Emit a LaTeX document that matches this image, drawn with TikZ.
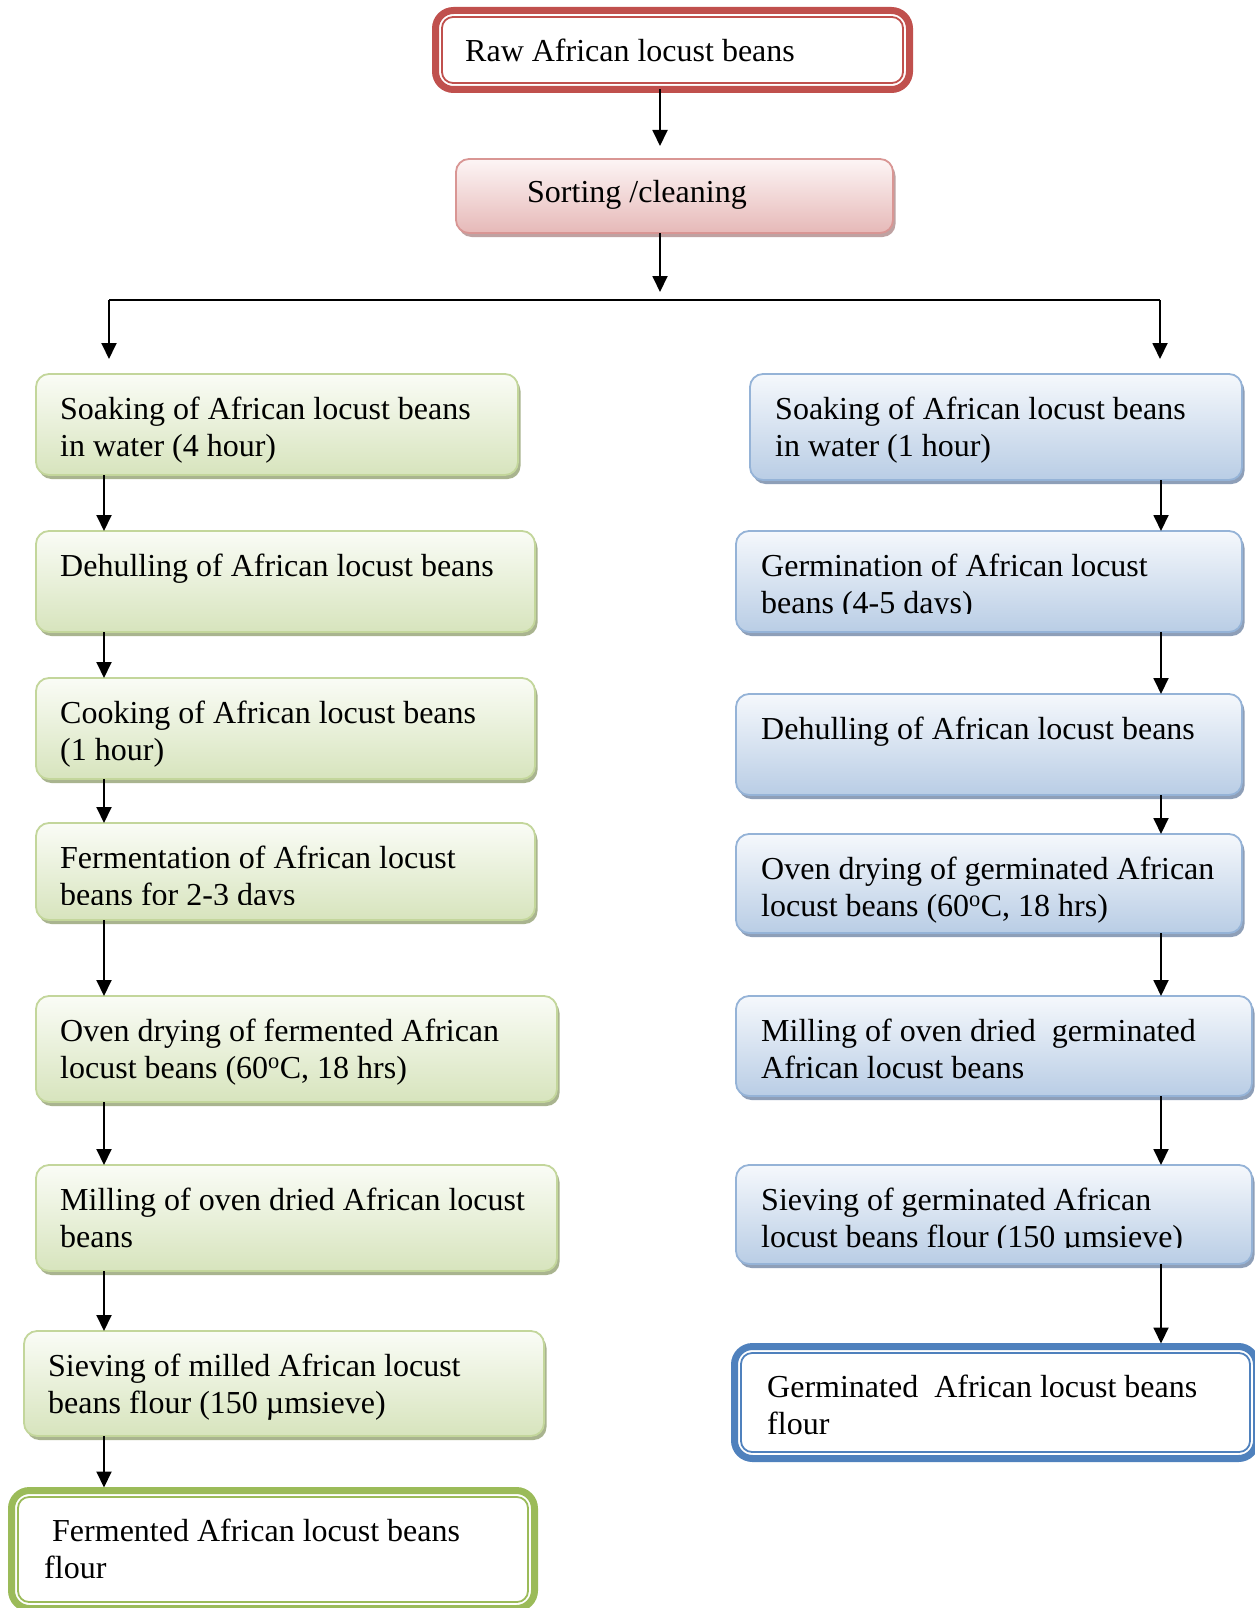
\documentclass[tikz,border=0pt]{standalone}
\usepackage{fontspec}
\setmainfont{Liberation Serif}
\usetikzlibrary{arrows.meta,shadows}
\definecolor{redc}{HTML}{C0504D}
\definecolor{pdraw}{HTML}{D99694}
\definecolor{ptop}{HTML}{FDF5F5}
\definecolor{pbot}{HTML}{E6B9B8}
\definecolor{psh}{HTML}{BFA2A2}
\definecolor{gdraw}{HTML}{C3D69B}
\definecolor{gtop}{HTML}{FAFCF6}
\definecolor{gbot}{HTML}{D7E4BD}
\definecolor{gsh}{HTML}{A9B48F}
\definecolor{bdraw}{HTML}{95B3D7}
\definecolor{btop}{HTML}{F5F8FC}
\definecolor{bbot}{HTML}{B9CDE5}
\definecolor{bsh}{HTML}{8E9FB8}
\definecolor{gthick}{HTML}{9BBB59}
\definecolor{bthick}{HTML}{4F81BD}
\begin{document}
\begin{tikzpicture}[x=1pt,y=-1pt,
  base/.style={rounded corners=13pt, line width=1.8pt, inner sep=0pt, outer sep=0pt, anchor=north west},
  pbox/.style={base, draw=pdraw, top color=ptop, bottom color=pbot,
    drop shadow={shadow xshift=2.5pt, shadow yshift=-4pt, fill=psh, opacity=1}},
  gbox/.style={base, draw=gdraw, top color=gtop, bottom color=gbot,
    drop shadow={shadow xshift=2.5pt, shadow yshift=-4pt, fill=gsh, opacity=1}},
  bbox/.style={base, draw=bdraw, top color=btop, bottom color=bbot,
    drop shadow={shadow xshift=2.5pt, shadow yshift=-4pt, fill=bsh, opacity=1}},
  endbox/.style={base, rounded corners=18pt, line width=7pt, fill=white},
  inner/.style={line width=1.8pt, rounded corners=11pt},
  txt/.style={anchor=base west, inner sep=0pt, text width=640pt, align=flush left,
    font=\fontsize{32}{37}\selectfont},
  arr/.style={-{Triangle[width=15pt,length=16pt]}, line width=1.9pt},
  ln/.style={line width=1.9pt}
]
\useasboundingbox (0,0) rectangle (1254,1608);
\fill[white] (0,0) rectangle (1254,1608);

% top boxes
\node[endbox, draw=redc, minimum width=474pt, minimum height=79pt] (raw) at (435.5,10.5) {};
\draw[redc, inner] ([shift={(6.5pt,-6.5pt)}]raw.north west) rectangle ([shift={(-6.5pt,6.5pt)}]raw.south east);
\node[pbox, minimum width=437pt, minimum height=74pt] (sort) at (456,159) {};

% left column
\node[gbox, minimum width=482pt, minimum height=101pt] (l1) at (36,374) {};
\node[gbox, minimum width=499pt, minimum height=101pt] (l2) at (36,531) {};
\node[gbox, minimum width=499pt, minimum height=101pt] (l3) at (36,678) {};
\node[gbox, minimum width=499pt, minimum height=97pt] (l4) at (36,823) {};
\node[gbox, minimum width=521pt, minimum height=106pt] (l5) at (36,996) {};
\node[gbox, minimum width=521pt, minimum height=106pt] (l6) at (36,1165) {};
\node[gbox, minimum width=520pt, minimum height=105pt] (l7) at (24,1331) {};
\node[endbox, draw=gthick, minimum width=523pt, minimum height=118pt] (l8) at (11.5,1490.5) {};
\draw[gthick, inner] ([shift={(6.5pt,-6.5pt)}]l8.north west) rectangle ([shift={(-6.5pt,6.5pt)}]l8.south east);

% right column
\node[bbox, minimum width=492pt, minimum height=106pt] (r1) at (750,374) {};
\node[bbox, minimum width=506pt, minimum height=101pt] (r2) at (736,531) {};
\node[bbox, minimum width=506pt, minimum height=101pt] (r3) at (736,694) {};
\node[bbox, minimum width=506pt, minimum height=99pt] (r4) at (736,834) {};
\node[bbox, minimum width=516pt, minimum height=100pt] (r5) at (736,996) {};
\node[bbox, minimum width=516pt, minimum height=99pt] (r6) at (736,1165) {};
\node[endbox, draw=bthick, minimum width=522pt, minimum height=112pt] (r7) at (734.5,1346.5) {};
\draw[bthick, inner] ([shift={(6.5pt,-6.5pt)}]r7.north west) rectangle ([shift={(-6.5pt,6.5pt)}]r7.south east);

% texts
\node[txt] (traw) at (465,62) {Raw African locust beans};
\node[txt] (tsort) at (527,203) {Sorting /cleaning};
\node[txt] (tl1) at (60,419) {Soaking of African locust beans\\in water (4 hour)};
\node[txt] (tl2) at (60,576) {Dehulling of African locust beans};
\node[txt] (tl3) at (60,723) {Cooking of African locust beans\\(1 hour)};
\begin{scope}
\clip (36,823) rectangle (535,904);
\node[txt] (tl4) at (60,868) {Fermentation of African locust\\beans for 2-3 days};
\end{scope}
\node[txt] (tl5) at (60,1041) {Oven drying of fermented African\\locust beans (60\textsuperscript{o}C, 18 hrs)};
\node[txt] (tl6) at (60,1210) {Milling of oven dried African locust\\beans};
\node[txt] (tl7) at (48,1376) {Sieving of milled African locust\\beans flour (150 µmsieve)};
\node[txt] (tl8) at (44,1541) {\ Fermented African locust beans\\flour};
\node[txt] (tr1) at (775,419) {Soaking of African locust beans\\in water (1 hour)};
\begin{scope}
\clip (736,531) rectangle (1242,613);
\node[txt] (tr2) at (761,576) {Germination of African locust\\beans (4-5 days)};
\end{scope}
\node[txt] (tr3) at (761,739) {Dehulling of African locust beans};
\node[txt] (tr4) at (761,879) {Oven drying of germinated African\\locust beans (60\textsuperscript{o}C, 18 hrs)};
\node[txt] (tr5) at (761,1041) {Milling of oven dried\ \ germinated\\African locust beans};
\begin{scope}
\clip (736,1165) rectangle (1254,1247);
\node[txt] (tr6) at (761,1210) {Sieving of germinated African\\locust beans flour (150 µmsieve)};
\end{scope}
\node[txt] (tr7) at (767,1397) {Germinated\ \ African locust beans\\flour};

% connectors
\coordinate (cx) at (660,0);
\coordinate (jl) at (109,300);
\coordinate (jr) at (1160,300);
\coordinate (lx) at (104,0);
\coordinate (rx) at (1161,0);
\draw[arr, shorten >=13pt] (raw.south -| cx) -- (sort.north -| cx);
\draw[arr, shorten >=8pt] (sort.south -| cx) -- (cx |- jl);
\draw[ln] (jl) -- (jr);
\draw[arr, shorten >=15pt] (jl) -- (l1.north -| jl);
\draw[arr, shorten >=15pt] (jr) -- (r1.north -| jr);

\draw[arr] (l1.south -| lx) -- (l2.north -| lx);
\draw[arr] (l2.south -| lx) -- (l3.north -| lx);
\draw[arr] (l3.south -| lx) -- (l4.north -| lx);
\draw[arr] (l4.south -| lx) -- (l5.north -| lx);
\draw[arr] (l5.south -| lx) -- (l6.north -| lx);
\draw[arr] (l6.south -| lx) -- (l7.north -| lx);
\draw[arr, shorten >=3pt] (l7.south -| lx) -- (l8.north -| lx);

\draw[arr] (r1.south -| rx) -- (r2.north -| rx);
\draw[arr] (r2.south -| rx) -- (r3.north -| rx);
\draw[arr] (r3.south -| rx) -- (r4.north -| rx);
\draw[arr] (r4.south -| rx) -- (r5.north -| rx);
\draw[arr] (r5.south -| rx) -- (r6.north -| rx);
\draw[arr, shorten >=3pt] (r6.south -| rx) -- (r7.north -| rx);
\end{tikzpicture}
\end{document}
